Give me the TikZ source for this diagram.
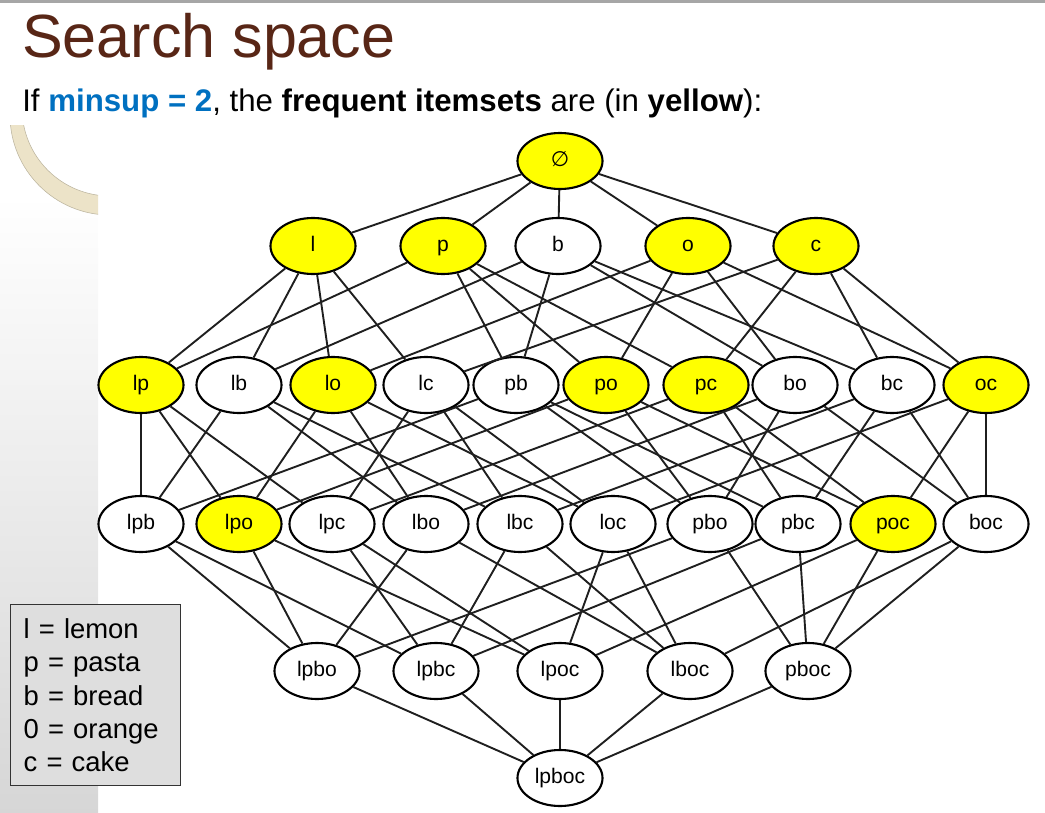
\documentclass[tikz,border=0pt]{standalone}
\usepackage{fontspec}
\setmainfont{Liberation Sans}
\newfontfamily\symbfont{DejaVu Sans}
\usepackage{xcolor}
\usepackage{tikz}
\usetikzlibrary{shapes.geometric}

\definecolor{titlebrown}{RGB}{88,38,22}
\definecolor{minblue}{RGB}{0,112,192}
\definecolor{ringtan}{RGB}{236,227,200}
\definecolor{setyellow}{RGB}{255,255,0}

\begin{document}
\begin{tikzpicture}[
    x=0.025cm, y=-0.025cm,
    item/.style={ellipse, draw, line width=1.5pt, minimum width=2.125cm,
      minimum height=1.4cm, inner sep=0pt, fill=white,
      text height=0.72em, text depth=0pt,
      font=\fontsize{15}{18}\selectfont},
    freq/.style={item, fill=setyellow},
    link/.style={line width=1.35pt, black!88},
    legend/.style={draw=black!80, fill=black!13, line width=1pt, align=left,
      text width=3.6cm, inner xsep=0.325cm, minimum height=4.525cm,
      font=\fontsize{19.5}{23.5}\selectfont}
]
\useasboundingbox (0,0) rectangle (1045,813);

% slide background
\fill[black!35] (0,0) rectangle (1045,3);
\shade[top color=white, bottom color=black!16] (0,195) rectangle (98,813);
\begin{scope}
  \clip (0,126) rectangle (98,230);
  \fill[ringtan, draw=ringtan!80!black, even odd rule]
    (110,115) circle (100) (110,108) circle (88);
\end{scope}

% heading
\node[anchor=base west, inner sep=0pt, text=titlebrown,
  font=\fontsize{43.4}{50}\selectfont] (title) at (22,58) {Search space};
\node[anchor=base west, inner sep=0pt, font=\fontsize{22.2}{26}\selectfont]
  (caption) at (22,112)
  {If \textbf{\color{minblue}minsup = 2}, the \textbf{frequent itemsets} are (in \textbf{yellow}):};

% level 0 and 1
\node[freq] (empty) at (560,161) {\symbfont ∅};
\node[freq] (l) at (313,246) {l};
\node[freq] (p) at (443,246) {p};
\node[item] (b) at (558,246) {b};
\node[freq] (o) at (688,246) {o};
\node[freq] (c) at (816,246) {c};

% level 2
\node[freq] (lp) at (141,385) {lp};
\node[item] (lb) at (239,385) {lb};
\node[freq] (lo) at (333,385) {lo};
\node[item] (lc) at (426,385) {lc};
\node[item] (pb) at (516,385) {pb};
\node[freq] (po) at (606,385) {po};
\node[freq] (pc) at (706,385) {pc};
\node[item] (bo) at (795,385) {bo};
\node[item] (bc) at (892,385) {bc};
\node[freq] (oc) at (986,385) {oc};

% level 3
\node[item] (lpb) at (141,524) {lpb};
\node[freq] (lpo) at (239,524) {lpo};
\node[item] (lpc) at (332,524) {lpc};
\node[item] (lbo) at (426,524) {lbo};
\node[item] (lbc) at (520,524) {lbc};
\node[item] (loc) at (613,524) {loc};
\node[item] (pbo) at (710,524) {pbo};
\node[item] (pbc) at (798,524) {pbc};
\node[freq] (poc) at (893,524) {poc};
\node[item] (boc) at (986,524) {boc};

% level 4 and 5
\node[item] (lpbo) at (317,671) {lpbo};
\node[item] (lpbc) at (436,671) {lpbc};
\node[item] (lpoc) at (560,671) {lpoc};
\node[item] (lboc) at (690,671) {lboc};
\node[item] (pboc) at (808,671) {pboc};
\node[item] (lpboc) at (560,778) {lpboc};

\node[legend, anchor=north west] (key) at (10,604)
  {l = lemon\\p = pasta\\b = bread\\0 = orange\\c = cake};

% connectors
\draw[link] (empty) -- (l) (empty) -- (p) (empty) -- (b) (empty) -- (o) (empty) -- (c);
\draw[link] (lp) -- (l) (lp) -- (p);
\draw[link] (lb) -- (l) (lb) -- (b);
\draw[link] (lo) -- (l) (lo) -- (o);
\draw[link] (lc) -- (l) (lc) -- (c);
\draw[link] (pb) -- (p) (pb) -- (b);
\draw[link] (po) -- (p) (po) -- (o);
\draw[link] (pc) -- (p) (pc) -- (c);
\draw[link] (bo) -- (b) (bo) -- (o);
\draw[link] (bc) -- (b) (bc) -- (c);
\draw[link] (oc) -- (o) (oc) -- (c);
\draw[link] (lpb) -- (lp) (lpb) -- (lb) (lpb) -- (pb);
\draw[link] (lpo) -- (lp) (lpo) -- (lo) (lpo) -- (po);
\draw[link] (lpc) -- (lp) (lpc) -- (lc) (lpc) -- (pc);
\draw[link] (lbo) -- (lb) (lbo) -- (lo) (lbo) -- (bo);
\draw[link] (lbc) -- (lb) (lbc) -- (lc) (lbc) -- (bc);
\draw[link] (loc) -- (lo) (loc) -- (lc) (loc) -- (oc);
\draw[link] (pbo) -- (pb) (pbo) -- (po) (pbo) -- (bo);
\draw[link] (pbc) -- (pb) (pbc) -- (pc) (pbc) -- (bc);
\draw[link] (poc) -- (po) (poc) -- (pc) (poc) -- (oc);
\draw[link] (boc) -- (bo) (boc) -- (bc) (boc) -- (oc);
\draw[link] (lpbo) -- (lpb) (lpbo) -- (lpo) (lpbo) -- (lbo) (lpbo) -- (pbo);
\draw[link] (lpbc) -- (lpb) (lpbc) -- (lpc) (lpbc) -- (lbc) (lpbc) -- (pbc);
\draw[link] (lpoc) -- (lpo) (lpoc) -- (lpc) (lpoc) -- (loc) (lpoc) -- (poc);
\draw[link] (lboc) -- (lbo) (lboc) -- (lbc) (lboc) -- (loc) (lboc) -- (boc);
\draw[link] (pboc) -- (pbo) (pboc) -- (pbc) (pboc) -- (poc) (pboc) -- (boc);
\draw[link] (lpboc) -- (lpbo) (lpboc) -- (lpbc) (lpboc) -- (lpoc) (lpboc) -- (lboc) (lpboc) -- (pboc);
\end{tikzpicture}
\end{document}
